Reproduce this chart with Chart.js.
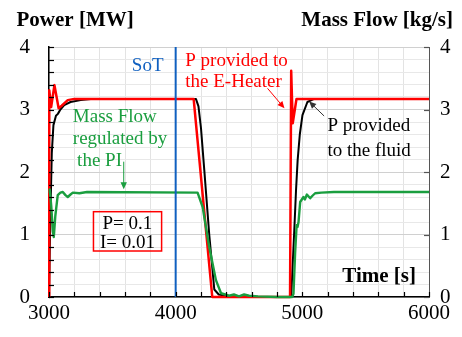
<!DOCTYPE html>
<html><head><meta charset="utf-8">
<script src="https://cdn.jsdelivr.net/npm/chart.js@4.4.0/dist/chart.umd.min.js"></script>
<style>html,body{margin:0;padding:0;background:#fff;}canvas{display:block;}</style>
</head><body>
<canvas id="c" width="462" height="337" style="width:462px;height:337px"></canvas>
<script>
// ---- data ----
const timeMin = 3000, timeMax = 6000, timeStep = 200, timeLabelStep = 1000;
const powerMin = 0, powerMax = 4, powerStep = 0.2;
const sotTime = 4000;

const heaterTime  = [3000, 3002, 3017, 3043, 3076, 3100, 3148, 3200, 4142, 4289, 4903, 4912, 4924, 4954, 6000];
const heaterPower = [0,    3.31, 3.04, 3.39, 3.02, 3.06, 3.15, 3.17, 3.17, 0,    0,    3.62, 2.78, 3.17, 3.17];

const fluidTime  = [3000, 3010, 3022, 3035, 3055, 3070, 3090, 3120, 3170, 3250, 3350, 4160, 4180, 4200, 4226, 4265, 4305, 4340, 4420, 4500, 4912, 4935, 4950, 4963, 4980, 5001, 5040, 5093, 6000];
const fluidPower = [0,    1.2,  2.3,  2.75, 2.9,  2.93, 3.0,  3.07, 3.12, 3.15, 3.17, 3.17, 3.05, 2.7,  2.03, 1.0,  0.12, 0.04, 0.01, 0,    0,    1.0,  1.7,  2.19, 2.6,  2.91, 3.12, 3.17, 3.17];

const flowTime = [3000, 3006, 3018, 3030, 3038, 3050, 3069, 3090, 3109, 3130, 3148, 3170, 3188, 3240, 3300, 4173, 4213, 4265, 4318, 4358, 4423, 4460, 4500, 4540, 4580, 4650, 4800, 4920, 4930, 4943, 4955, 4962, 4970, 4983, 5009, 5020, 5036, 5062, 5080, 5101, 5150, 5250, 6000];
const flowRate = [1.66, 1.72, 1.45, 1.05, 0.96, 1.3,  1.63, 1.67, 1.68, 1.63, 1.6,  1.64, 1.67, 1.66, 1.68, 1.67, 1.44, 0.8,  0.27, 0.06, 0.02, 0.04, 0.01, 0.04, 0.02, 0.01, 0,    0,    0.05, 0.7,  1.15, 1.12, 1.2,  1.52, 1.6,  1.56, 1.64, 1.58, 1.62, 1.66, 1.67, 1.68, 1.68];

const pts = (xs, ys) => xs.map((x, i) => ({x, y: ys[i]}));

const SERIF = '"Liberation Serif", "Times New Roman", serif';
const RED = '#ff0000', GREEN = '#1a9e3f', BLUE = '#1060c0', BLACK = '#000000';

const isMultiple = (v, s) => Math.abs(v / s - Math.round(v / s)) < 1e-6;

// inside tick marks
const insideTicks = {
  id: 'insideTicks',
  afterDatasetsDraw(chart) {
    const {ctx, chartArea: a, scales: {x, y, y2}} = chart;
    ctx.save();
    ctx.lineWidth = 1.2;
    ctx.strokeStyle = '#000';
    x.ticks.forEach(t => {
      const px = Math.round(x.getPixelForValue(t.value)) + 0.5;
      ctx.beginPath(); ctx.moveTo(px, a.bottom); ctx.lineTo(px, a.bottom - 5); ctx.stroke();
    });
    y.ticks.forEach(t => {
      const py = Math.round(y.getPixelForValue(t.value)) + 0.5;
      ctx.beginPath(); ctx.moveTo(a.left, py); ctx.lineTo(a.left + 5, py); ctx.stroke();
    });
    ctx.strokeStyle = '#555';
    y2.ticks.forEach(t => {
      if (!isMultiple(t.value, 1)) return;
      const py = Math.round(y2.getPixelForValue(t.value)) + 0.5;
      ctx.beginPath(); ctx.moveTo(a.right, py); ctx.lineTo(a.right - 5, py); ctx.stroke();
    });
    ctx.restore();
  }
};

// titles and annotations
const notes = [
  {text: 'SoT', t: 3779, v: 3.616, color: BLUE, align: 'center'},
  {text: 'P provided to', t: 4076, v: 3.696, color: RED, align: 'left'},
  {text: 'the E-Heater', t: 4076, v: 3.365, color: RED, align: 'left'},
  {text: 'Mass Flow', t: 3188, v: 2.795, color: GREEN, align: 'left'},
  {text: 'regulated by', t: 3188, v: 2.443, color: GREEN, align: 'left'},
  {text: 'the PI', t: 3222, v: 2.1, color: GREEN, align: 'left'},
  {text: 'P provided', t: 5198, v: 2.656, color: BLACK, align: 'left'},
  {text: 'to the fluid', t: 5198, v: 2.256, color: BLACK, align: 'left'},
  {text: 'P= 0.1', t: 3619, v: 1.088, color: BLACK, align: 'center'},
  {text: 'I= 0.01', t: 3619, v: 0.779, color: BLACK, align: 'center'}
];
const arrows = [
  {t1: 4725, v1: 3.339, t2: 4859, v2: 3.019, color: RED},
  {t1: 3590, v1: 2.165, t2: 3590, v2: 1.723, color: GREEN},
  {t1: 5172, v1: 2.896, t2: 5054, v2: 3.128, color: '#333'}
];
const paramBox = {t1: 3351, v1: 1.365, t2: 3889, v2: 0.736, color: RED};

const annotate = {
  id: 'annotate',
  afterDraw(chart) {
    const {ctx, chartArea: a, scales: {x, y}} = chart;
    ctx.save();
    ctx.textBaseline = 'alphabetic';
    // axis titles
    ctx.fillStyle = '#000';
    ctx.font = 'bold 21px ' + SERIF;
    ctx.textAlign = 'left';
    ctx.fillText('Power [MW]', a.left - 32.5, a.top - 21);
    ctx.textAlign = 'right';
    ctx.fillText('Mass Flow [kg/s]', a.right + 24, a.top - 21);
    ctx.fillText('Time [s]', a.right - 13, a.bottom - 15.5);
    // notes
    ctx.font = '19px ' + SERIF;
    notes.forEach(n => {
      ctx.fillStyle = n.color;
      ctx.textAlign = n.align;
      ctx.fillText(n.text, x.getPixelForValue(n.t), y.getPixelForValue(n.v));
    });
    // box
    ctx.strokeStyle = paramBox.color; ctx.lineWidth = 1.5;
    const bx1 = x.getPixelForValue(paramBox.t1), bx2 = x.getPixelForValue(paramBox.t2);
    const by1 = y.getPixelForValue(paramBox.v1), by2 = y.getPixelForValue(paramBox.v2);
    ctx.strokeRect(bx1, by1, bx2 - bx1, by2 - by1);
    // arrows
    arrows.forEach(ar => {
      const x1 = x.getPixelForValue(ar.t1), y1 = y.getPixelForValue(ar.v1);
      const x2 = x.getPixelForValue(ar.t2), y2p = y.getPixelForValue(ar.v2);
      const ang = Math.atan2(y2p - y1, x2 - x1);
      const L = 7, W = 3.2;
      ctx.strokeStyle = ar.color; ctx.fillStyle = ar.color; ctx.lineWidth = 1;
      ctx.beginPath(); ctx.moveTo(x1, y1);
      ctx.lineTo(x2 - Math.cos(ang) * L * 0.8, y2p - Math.sin(ang) * L * 0.8); ctx.stroke();
      ctx.beginPath();
      ctx.moveTo(x2, y2p);
      ctx.lineTo(x2 - Math.cos(ang) * L - Math.sin(ang) * W, y2p - Math.sin(ang) * L + Math.cos(ang) * W);
      ctx.lineTo(x2 - Math.cos(ang) * L + Math.sin(ang) * W, y2p - Math.sin(ang) * L - Math.cos(ang) * W);
      ctx.closePath(); ctx.fill();
    });
    ctx.restore();
  }
};

const tickFont = {family: SERIF, size: 21};

new Chart(document.getElementById('c'), {
  type: 'line',
  data: {
    datasets: [
      {label: 'SoT', data: [{x: sotTime, y: powerMin}, {x: sotTime, y: powerMax}], borderColor: BLUE, borderWidth: 2, yAxisID: 'y'},
      {label: 'Mass Flow', data: pts(flowTime, flowRate), borderColor: GREEN, borderWidth: 2.4, yAxisID: 'y2'},
      {label: 'P E-Heater', data: pts(heaterTime, heaterPower), borderColor: RED, borderWidth: 2.5, yAxisID: 'y'},
      {label: 'P fluid', data: pts(fluidTime, fluidPower), borderColor: BLACK, borderWidth: 2, yAxisID: 'y'}
    ]
  },
  options: {
    responsive: false,
    animation: false,
    devicePixelRatio: 1,
    layout: {padding: {top: 47, left: 0, right: 0, bottom: 0}},
    elements: {point: {radius: 0}, line: {tension: 0, fill: false, borderJoinStyle: 'round', capBezierPoints: true}},
    datasets: {line: {clip: false}},
    plugins: {legend: {display: false}, tooltip: {enabled: false}},
    scales: {
      x: {
        type: 'linear', min: timeMin, max: timeMax,
        afterFit: s => { s.height = 40; },
        ticks: {stepSize: timeStep, autoSkip: false, maxRotation: 0, padding: 4, font: tickFont, color: '#000',
          callback: v => isMultiple(v, timeLabelStep) ? String(v) : ''},
        grid: {color: '#e3e3e3', lineWidth: 1, drawTicks: false},
        border: {color: '#000', width: 1.5}
      },
      y: {
        type: 'linear', position: 'left', min: powerMin, max: powerMax,
        afterFit: s => { s.width = 49; },
        ticks: {stepSize: powerStep, autoSkip: false, padding: 19, font: tickFont, color: '#000',
          callback: v => isMultiple(v, 1) ? String(Math.round(v)) : ''},
        grid: {color: c => isMultiple(c.tick.value, 1) ? '#d0d0d0' : '#e8e8e8', lineWidth: 1, drawTicks: false},
        border: {color: '#000', width: 1.5}
      },
      y2: {
        type: 'linear', position: 'right', min: powerMin, max: powerMax,
        afterFit: s => { s.width = 33; },
        ticks: {stepSize: powerStep, autoSkip: false, padding: 11, font: tickFont, color: '#000',
          callback: v => isMultiple(v, 1) ? String(Math.round(v)) : ''},
        grid: {drawOnChartArea: false, drawTicks: false},
        border: {color: '#555', width: 1}
      }
    }
  },
  plugins: [insideTicks, annotate]
});
</script>
</body></html>
